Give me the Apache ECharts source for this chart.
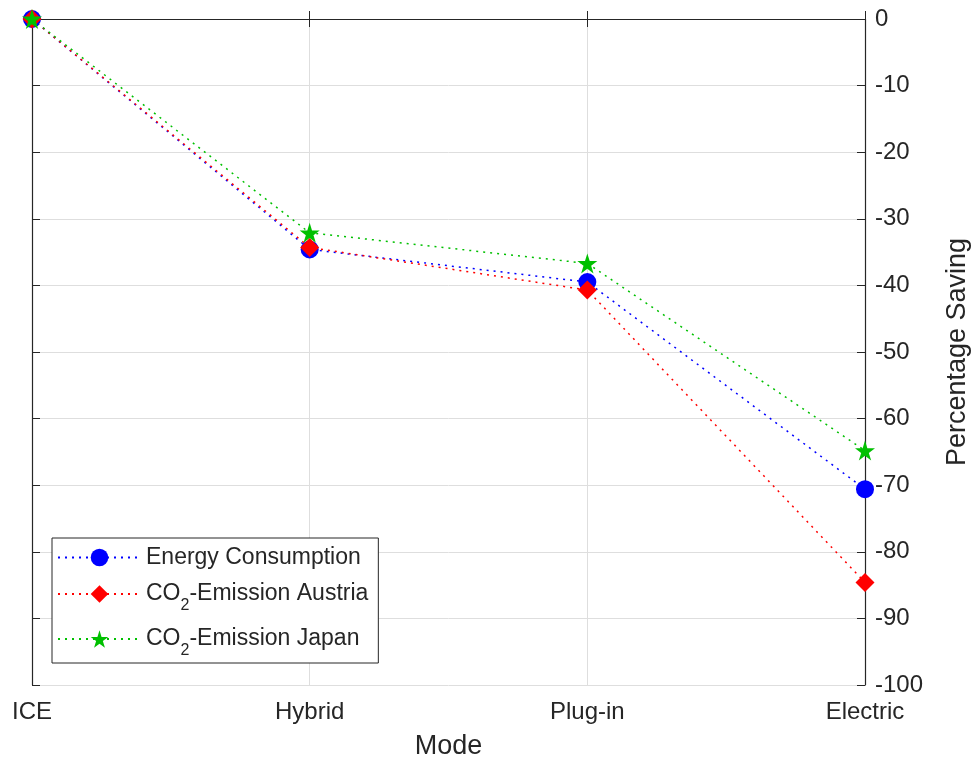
<!DOCTYPE html>
<html><head><meta charset="utf-8">
<script src="https://cdn.jsdelivr.net/npm/echarts@6/dist/echarts.min.js"></script>
<style>html,body{margin:0;padding:0;background:#fff}#c{width:979px;height:765px}</style>
</head><body><div id="c"></div>
<script>
const categories = ['ICE', 'Hybrid', 'Plug-in', 'Electric'];
const energyConsumption = [0, -34.6, -39.5, -70.6];
const co2Austria = [0, -34.3, -40.7, -84.6];
const co2Japan = [0, -32.1, -36.7, -64.8];
const seriesNames = ['Energy Consumption', 'CO2-Emission Austria', 'CO2-Emission Japan'];

const STAR = 'path://M50,0 L61.2,34.5 L97.6,34.5 L68.2,55.9 L79.4,90.5 L50,69.1 L20.6,90.5 L31.8,55.9 L2.4,34.5 L38.8,34.5 Z';
const axisColor = '#262626';
const font = 'Liberation Sans, Arial, Helvetica, sans-serif';

const chart = echarts.init(document.getElementById('c'), null, {renderer: 'canvas'});
function mk(name, data, color, symbol, size) {
  return {
    name: name, type: 'line', data: data, xAxisIndex: 0, yAxisIndex: 0,
    symbol: symbol, symbolSize: size, showAllSymbol: true,
    lineStyle: {color: color, width: 1.5, type: [2, 5]},
    itemStyle: {color: color},
    emphasis: {disabled: true}, animation: false
  };
}
chart.setOption({
  animation: false,
  grid: {left: 32, right: 109, top: 19, bottom: 79, containLabel: false},
  legend: {
    orient: 'vertical', left: 52, top: 538,
    backgroundColor: '#fff', borderColor: axisColor, borderWidth: 1,
    padding: [8, 10, 4, 5], itemGap: 5, itemWidth: 83, itemHeight: 22,
    data: seriesNames,
    formatter: function (n) {
      if (n.indexOf('CO2') === 0) return '{n|CO}{s|2}{n|' + n.slice(3) + '}';
      return '{n|' + n + '}';
    },
    textStyle: {
      fontFamily: font, color: '#000', fontSize: 23,
      rich: {
        n: {fontFamily: font, fontSize: 23, color: '#262626', padding: [4, 0, 4, 0], verticalAlign: 'middle'},
        s: {fontFamily: font, fontSize: 16, color: '#262626', lineHeight: 16, padding: [24, 0, 0, 0], verticalAlign: 'middle'}
      }
    }
  },
  xAxis: [{
    type: 'category', data: categories, boundaryGap: false, position: 'bottom',
    name: 'Mode', nameLocation: 'middle', nameGap: 48,
    nameTextStyle: {fontFamily: font, fontSize: 27, color: '#262626'},
    axisLine: {show: true, lineStyle: {color: axisColor, width: 1.2}},
    axisTick: {show: true, inside: true, length: 8, lineStyle: {color: axisColor}},
    axisLabel: {fontFamily: font, fontSize: 24, color: '#262626', margin: 15},
    splitLine: {show: true, lineStyle: {color: '#dedede', width: 1}}
  }, {
    type: 'category', data: categories, boundaryGap: false, position: 'top',
    axisLine: {show: true, lineStyle: {color: axisColor, width: 1.2}},
    axisTick: {show: true, inside: true, length: 8, lineStyle: {color: axisColor}},
    axisLabel: {show: false}, splitLine: {show: false}
  }],
  yAxis: [{
    type: 'value', position: 'right', min: -100, max: 0, interval: 10,
    name: 'Percentage Saving', nameLocation: 'middle', nameGap: 79, nameRotate: 90,
    nameTextStyle: {fontFamily: font, fontSize: 27, color: '#262626'},
    axisLine: {show: true, lineStyle: {color: axisColor, width: 1.2}},
    axisTick: {show: true, inside: true, length: 8, lineStyle: {color: axisColor}},
    axisLabel: {fontFamily: font, fontSize: 24, color: '#262626', margin: 10},
    splitLine: {show: true, lineStyle: {color: '#dedede', width: 1}}
  }, {
    type: 'value', position: 'left', min: -100, max: 0, interval: 10,
    axisLine: {show: true, lineStyle: {color: axisColor, width: 1.2}},
    axisTick: {show: true, inside: true, length: 8, lineStyle: {color: axisColor}},
    axisLabel: {show: false}, splitLine: {show: false}
  }],
  series: [
    mk(seriesNames[0], energyConsumption, '#0000ff', 'circle', 18),
    mk(seriesNames[1], co2Austria, '#ff0000', 'diamond', 19),
    mk(seriesNames[2], co2Japan, '#00c000', STAR, 20)
  ]
});
</script></body></html>
